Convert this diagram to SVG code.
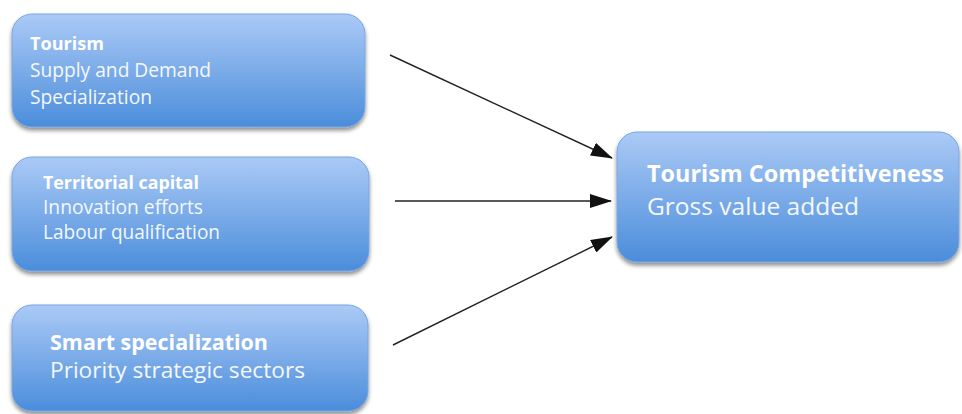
<svg xmlns="http://www.w3.org/2000/svg" width="962" height="414" viewBox="0 0 962 414">
<defs>
<linearGradient id="g" x1="0" y1="0" x2="0" y2="1">
<stop offset="0" stop-color="#abcaf6"/>
<stop offset="1" stop-color="#4b8ddb"/>
</linearGradient>
<filter id="sh" x="-5%" y="-10%" width="110%" height="130%">
<feGaussianBlur in="SourceAlpha" stdDeviation="2"/>
<feOffset dx="0" dy="3" result="b"/>
<feComponentTransfer><feFuncA type="linear" slope="0.45"/></feComponentTransfer>
<feMerge><feMergeNode/><feMergeNode in="SourceGraphic"/></feMerge>
</filter>
<marker id="ah" markerUnits="userSpaceOnUse" markerWidth="22" markerHeight="14" refX="21" refY="7" orient="auto">
<path d="M0,0 L22,7 L0,14 Z" fill="#111"/>
</marker>
<style>
.box{fill:url(#g);stroke:#7aa6e0;stroke-width:1;filter:url(#sh)}
.t{font-family:"Open Sans","Noto Sans",sans-serif;fill:#f4f8fe;font-size:20px}
.b{font-weight:bold;fill:#ffffff;font-size:18.5px}
.mid{font-size:22px}
.big{font-size:24px}
.bigb{font-weight:bold;fill:#ffffff;font-size:23px}
.c{stroke:#222;stroke-width:1.4;fill:none;marker-end:url(#ah)}
</style>
</defs>
<rect width="962" height="414" fill="#ffffff"/>
<g id="tourism">
<rect class="box" x="12" y="14" width="353" height="113" rx="20"/>
<text class="t b" x="30" y="50" textLength="74" lengthAdjust="spacingAndGlyphs">Tourism</text>
<text class="t" x="30" y="77" textLength="181" lengthAdjust="spacingAndGlyphs">Supply and Demand</text>
<text class="t" x="30" y="104" textLength="122" lengthAdjust="spacingAndGlyphs">Specialization</text>
</g>
<g id="territorial">
<rect class="box" x="12" y="157" width="357" height="114" rx="20"/>
<text class="t b" x="43" y="189" textLength="156" lengthAdjust="spacingAndGlyphs">Territorial capital</text>
<text class="t" x="43" y="214" textLength="160" lengthAdjust="spacingAndGlyphs">Innovation efforts</text>
<text class="t" x="43" y="239" textLength="177" lengthAdjust="spacingAndGlyphs">Labour qualification</text>
</g>
<g id="smart">
<rect class="box" x="12" y="305" width="356" height="106" rx="20"/>
<text class="t b mid" x="50" y="350" textLength="218" lengthAdjust="spacingAndGlyphs">Smart specialization</text>
<text class="t mid" x="50" y="378" textLength="255" lengthAdjust="spacingAndGlyphs">Priority strategic sectors</text>
</g>
<g id="competitiveness">
<rect class="box" x="617" y="132" width="342" height="130" rx="20"/>
<text class="t bigb" x="647" y="182" textLength="297" lengthAdjust="spacingAndGlyphs">Tourism Competitiveness</text>
<text class="t big" x="647" y="215" textLength="212" lengthAdjust="spacingAndGlyphs">Gross value added</text>
</g>
<g id="connectors">
<line class="c" x1="390" y1="55" x2="612" y2="158"/>
<line class="c" x1="395" y1="201" x2="611" y2="201"/>
<line class="c" x1="393" y1="345" x2="612" y2="237"/>
</g>
</svg>
